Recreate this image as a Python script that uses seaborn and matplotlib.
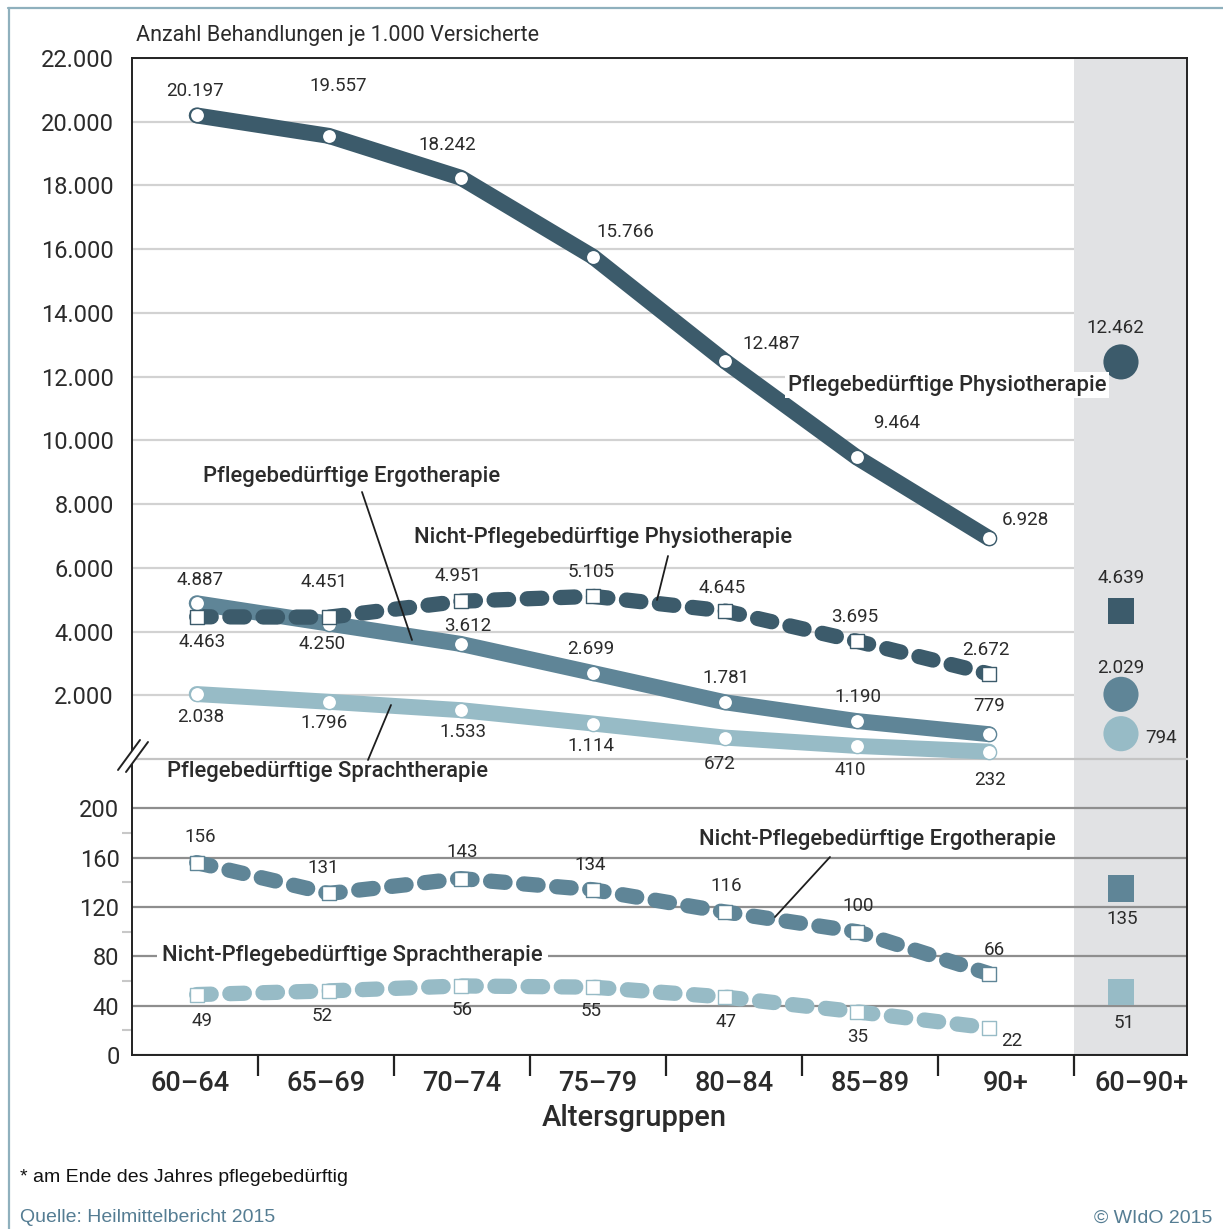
import numpy as np
import pandas as pd
import matplotlib
matplotlib.use("Agg")
import matplotlib.pyplot as plt
import seaborn as sns
from matplotlib.lines import Line2D
from matplotlib.patches import Polygon

# ---------------- data ----------------
age_groups = ["60–64", "65–69", "70–74", "75–79", "80–84", "85–89", "90+"]
total_group = "60–90+"

pfl_physio = [20197, 19557, 18242, 15766, 12487, 9464, 6928]
pfl_ergo = [4887, 4250, 3612, 2699, 1781, 1190, 779]
pfl_sprach = [2038, 1796, 1533, 1114, 672, 410, 232]
nicht_physio = [4463, 4451, 4951, 5105, 4645, 3695, 2672]
nicht_ergo = [156, 131, 143, 134, 116, 100, 66]
nicht_sprach = [49, 52, 56, 55, 47, 35, 22]

total_pfl_physio = 12462
total_pfl_ergo = 2029
total_pfl_sprach = 794
total_nicht_physio = 4639
total_nicht_ergo = 135
total_nicht_sprach = 51

top_ticks = [2000, 4000, 6000, 8000, 10000, 12000, 14000, 16000, 18000, 20000, 22000]
bot_ticks = [0, 40, 80, 120, 160, 200]
bot_minor_ticks = [20, 60, 100, 140, 180]

# ---------------- style ----------------
sns.set_style("white")
plt.rcParams["font.family"] = ["Roboto", "DejaVu Sans"]

W, H = 1223, 1229
DARK = "#3c5b6b"
MID = "#5f8597"
LIGHT = "#97bbc6"
TXT = "#2b2b2b"
BAND = "#e1e2e4"
LW = 11.5


def fp(x, y):
    return (x / W, 1 - y / H)


def fmt(v):
    return f"{v:,}".replace(",", ".")


fig = plt.figure(figsize=(W / 100, H / 100), dpi=100)
ax_top = fig.add_axes([132 / W, 1 - 759 / H, (1187 - 132) / W, (759 - 58) / H])
ax_bot = fig.add_axes([132 / W, 1 - 1055 / H, (1187 - 132) / W, (1055 - 759) / H])
ax_top.set_zorder(2)
ax_bot.set_zorder(1)
ax_top.patch.set_visible(False)

XL = (-0.49, 7.5)
lab_pos = [-0.05 + 1.03 * i for i in range(8)]
sep_pos = [-0.05 + 1.03 * (i + 0.5) for i in range(7)]
band_start = sep_pos[-1]

for ax in (ax_top, ax_bot):
    ax.set_xlim(*XL)
    ax.set_axisbelow(True)
    for s in ax.spines.values():
        s.set_color("#222222")
        s.set_linewidth(1.4)

ax_top.set_ylim(0, 22000)
ax_bot.set_ylim(0, 240)

# band
ax_top.axvspan(band_start, XL[1], color=BAND, zorder=1, lw=0)
ax_bot.axvspan(band_start, XL[1], color=BAND, zorder=0.2, lw=0)

# grids / ticks
ax_top.set_yticks(top_ticks)
ax_top.set_yticklabels([fmt(v) for v in top_ticks])
ax_top.yaxis.grid(True, color="#d2d2d2", lw=1.6)
ax_top.tick_params(axis="y", length=0, pad=13, labelsize=17, labelcolor=TXT)
ax_top.set_xticks([])
ax_top.spines["bottom"].set_color("#c4c4c4")
ax_top.spines["bottom"].set_linewidth(1.6)

ax_bot.set_yticks(bot_ticks)
ax_bot.set_yticklabels([str(v) for v in bot_ticks])
ax_bot.set_yticks(bot_minor_ticks, minor=True)
ax_bot.yaxis.grid(True, which="major", color="#8e8e8e", lw=1.6)
ax_bot.tick_params(axis="y", which="major", left=True, length=0, pad=9, labelsize=17,
                   labelcolor=TXT)
ax_bot.tick_params(axis="y", which="minor", left=True, length=7, width=1.5,
                   color="#c8c8c8", direction="out")
ax_bot.spines["top"].set_visible(False)

ax_bot.set_xticks(lab_pos)
ax_bot.set_xticklabels(age_groups + [total_group], fontweight="medium")
ax_bot.set_xticks(sep_pos, minor=True)
ax_bot.tick_params(axis="x", which="major", bottom=True, length=0, pad=11, labelsize=19.5,
                   labelcolor=TXT)
ax_bot.tick_params(axis="x", which="minor", bottom=True, length=15, width=1.6,
                   color="#222222", direction="out")


def draw_series(ax, vals, total, color, dashed, marker, offsets, tot_off, ms, ts):
    df = pd.DataFrame({"x": list(range(len(vals))), "y": vals})
    kw = dict(color=color, linewidth=LW, solid_capstyle="round", solid_joinstyle="round",
              dash_capstyle="round", dash_joinstyle="round", zorder=3, clip_on=False)
    if dashed:
        kw["linestyle"] = (0, (0.95, 1.22))
        kw["linewidth"] = LW - 0.5
    sns.lineplot(data=df, x="x", y="y", ax=ax, **kw)
    sns.scatterplot(data=df, x="x", y="y", ax=ax, marker=marker, s=ms, color="white",
                    edgecolor=color, linewidth=1.0, zorder=4, clip_on=False)
    sns.scatterplot(x=[7], y=[total], ax=ax, marker=marker, s=ts, color=color,
                    edgecolor="none", linewidth=0, zorder=4)
    for i, (v, (dx, dy)) in enumerate(zip(vals, offsets)):
        ax.annotate(fmt(v), (i, v), xytext=(dx, -dy), textcoords="offset pixels",
                    ha="center", va="center", fontsize=13.5, color=TXT, zorder=6,
                    annotation_clip=False)
    ax.annotate(fmt(total), (7, total), xytext=(tot_off[0], -tot_off[1]),
                textcoords="offset pixels", ha="center", va="center", fontsize=13.5,
                color=TXT, zorder=6, annotation_clip=False)


draw_series(ax_top, pfl_physio, total_pfl_physio, DARK, False, "o",
            [(-2, -24), (10, -50), (-13, -33), (33, -25), (46, -17), (40, -34), (36, -18)],
            (-6, -34), 105, 640)
draw_series(ax_top, pfl_sprach, total_pfl_sprach, LIGHT, False, "o",
            [(4, 23), (-5, 21), (2, 22), (-2, 22), (-5, 26), (-7, 24), (1, 28)],
            (40, 4), 105, 640)
draw_series(ax_top, pfl_ergo, total_pfl_ergo, MID, False, "o",
            [(3, -23), (-7, 20), (7, -18), (-2, -24), (1, -24), (1, -24), (0, -28)],
            (0, -26), 105, 640)
draw_series(ax_top, nicht_physio, total_nicht_physio, DARK, True, "s",
            [(5, 25), (-5, -35), (-3, -25), (-2, -24), (-3, -23), (-2, -24), (-3, -24)],
            (0, -33), 105, 360)
draw_series(ax_bot, nicht_ergo, total_nicht_ergo, MID, True, "s",
            [(4, -26), (-6, -25), (1, -27), (-3, -25), (1, -26), (1, -26), (5, -24)],
            (1, 31), 105, 360)
draw_series(ax_bot, nicht_sprach, total_nicht_sprach, LIGHT, True, "s",
            [(5, 26), (-7, 25), (1, 24), (-2, 24), (1, 25), (1, 25), (23, 13)],
            (3, 31), 105, 360)

for ax in (ax_top, ax_bot):
    ax.set_xlabel("")
    ax.set_ylabel("")
ax_top.set_xlim(*XL)
ax_bot.set_xlim(*XL)
ax_top.set_ylim(0, 22000)
ax_bot.set_ylim(0, 240)

# ---------------- series labels ----------------
lab_kw = dict(fontsize=15.8, color=TXT, ha="left", va="center", fontweight="medium", zorder=7)
fig.text(*fp(788, 385), "Pflegebedürftige Physiotherapie",
         bbox=dict(facecolor="white", edgecolor="none", pad=2), **lab_kw)
fig.text(*fp(203, 476), "Pflegebedürftige Ergotherapie", **lab_kw)
fig.text(*fp(414, 538), "Nicht-Pflegebedürftige Physiotherapie", **lab_kw)
fig.text(*fp(167, 772), "Pflegebedürftige Sprachtherapie", **lab_kw)
fig.text(*fp(699, 840), "Nicht-Pflegebedürftige Ergotherapie", **lab_kw)
fig.text(*fp(162, 956), "Nicht-Pflegebedürftige Sprachtherapie",
         bbox=dict(facecolor="white", edgecolor="none", pad=4), **lab_kw)


def fline(p1, p2, **kw):
    a, b = fp(*p1), fp(*p2)
    fig.add_artist(Line2D([a[0], b[0]], [a[1], b[1]], transform=fig.transFigure, **kw))


lead = dict(color="#1e1e1e", lw=1.3, zorder=8)
fline((362, 492), (412, 640), **lead)
fline((668, 556), (657, 600), **lead)
fline((391, 705), (368, 760), **lead)
fline((830, 857), (775, 917), **lead)

# axis break marks
poly = [fp(118, 770), fp(140, 740), fp(148, 742), fp(126, 772)]
fig.add_artist(Polygon(poly, closed=True, transform=fig.transFigure, facecolor="white",
                       edgecolor="none", zorder=9))
fline((118, 770), (140, 740), color="#222222", lw=1.4, zorder=10)
fline((126, 772), (148, 742), color="#222222", lw=1.4, zorder=10)

# titles
fig.text(*fp(136, 35), "Anzahl Behandlungen je 1.000 Versicherte", fontsize=15.5,
         color=TXT, ha="left", va="center")
fig.text(*fp(634, 1118), "Altersgruppen", fontsize=21, color=TXT, ha="center",
         va="center", fontweight="medium")

# footer
foot = ["Liberation Sans", "DejaVu Sans"]
fig.text(*fp(20, 1177), "* am Ende des Jahres pflegebedürftig", fontsize=14,
         color="#111111", ha="left", va="center", family=foot)
fig.text(*fp(20, 1218), "Quelle: Heilmittelbericht 2015", fontsize=14,
         color="#557d93", ha="left", va="center", family=foot)
fig.text(*fp(1212, 1218), "© WIdO 2015", fontsize=14,
         color="#557d93", ha="right", va="center", family=foot)

# frame lines
fline((8, 8), (1223, 8), color="#8fb0bd", lw=1.6)
fline((9, 8), (9, 1229), color="#8fb0bd", lw=1.6)

fig.savefig("out.png", dpi=100)
